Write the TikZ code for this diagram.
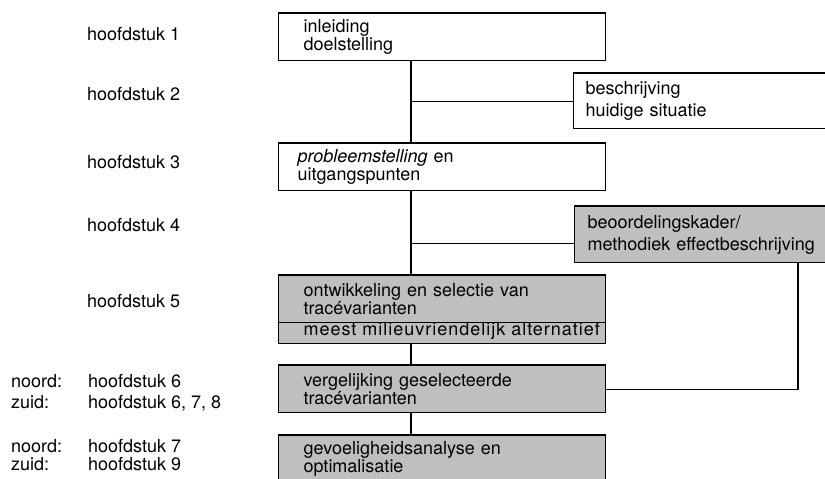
\documentclass[tikz,border=0pt]{standalone}
\usepackage{fontspec}
\setmainfont{TeX Gyre Heros}
\usetikzlibrary{positioning,calc}

\tikzset{
  kaal/.style={draw, line width=1.1pt, anchor=north west,
    inner ysep=0pt, font=\fontsize{18}{18.5}\selectfont},
  kader/.style={kaal, align=left},
  grijs/.style={kader, fill=gray!50},
  hfd/.style={anchor=base west, inner sep=0pt, font=\fontsize{18}{18.5}\selectfont},
  lijn/.style={line width=1.1pt}
}

\begin{document}
\begin{tikzpicture}[x=1pt,y=-1pt]
        \useasboundingbox (0,0) rectangle (825,479);
        \clip (0,0) rectangle (825,479);

        % Chapter labels
        \node[hfd] (h1) at (87,40) {hoofdstuk 1};
        \node[hfd] (h2) at (87,100) {hoofdstuk 2};
        \node[hfd] (h3) at (87,168) {hoofdstuk 3};
        \node[hfd] (h4) at (87,231) {hoofdstuk 4};
        \node[hfd] (h5) at (87,307) {hoofdstuk 5};
        \node[hfd] (n6) at (11,387) {noord:};
        \node[hfd] (h6) at (88,387) {hoofdstuk 6};
        \node[hfd] (z6) at (11,408) {zuid:};
        \node[hfd] (h678) at (88,408) {hoofdstuk 6, 7, 8};
        \node[hfd] (n7) at (11,452) {noord:};
        \node[hfd] (h7) at (88,452) {hoofdstuk 7};
        \node[hfd] (z9) at (11,470) {zuid:};
        \node[hfd] (h9) at (88,470) {hoofdstuk 9};

        % Boxes
        \node[kader, minimum width=327, minimum height=47, text width=277pt, inner xsep=25pt]
          (b1) at (278,13) {inleiding\\doelstelling};
        \node[kader, minimum width=266, minimum height=55, text width=242pt, inner xsep=12pt]
          (b2) at (573,73) {beschrijving\\[3.5pt]huidige situatie};
        \node[kader, minimum width=327, minimum height=47, text width=289pt, inner xsep=19pt]
          (b3) at (278,143) {\textit{probleemstelling} en\\uitgangspunten};
        \node[grijs, minimum width=266, minimum height=56, text width=240pt, inner xsep=13pt]
          (b4) at (574,206) {beoordelingskader/\\[3.5pt]methodiek effectbeschrijving};
        \node[grijs, minimum width=327, minimum height=47, text width=277pt, inner xsep=25pt]
          (b5a) at (278,275) {ontwikkeling en selectie van\\trac\'evarianten};
        \node[kaal, fill=gray!50, minimum width=327, minimum height=21, inner xsep=25pt,
          text height=13pt, text depth=8pt]
          (b5b) at (278,322) {\makebox[277pt][l]{\addfontfeature{LetterSpace=5.5}meest milieuvriendelijk alternatief}};
        \node[grijs, minimum width=327, minimum height=47, text width=277pt, inner xsep=25pt]
          (b6) at (278,365) {vergelijking geselecteerde\\trac\'evarianten};
        \node[grijs, minimum width=327, minimum height=47, text width=277pt, inner xsep=25pt]
          (b7) at (278,435) {gevoeligheidsanalyse en\\optimalisatie};

        % heavier top edges
        \foreach \b in {b1,b2,b3,b4,b5a,b6,b7}
          \draw[line width=2.2pt] (\b.north west) -- (\b.north east);

        % Connectors
        \coordinate (spine) at (411,0);
        \coordinate (rechts) at (798,0);
        \coordinate (t4) at ($(b4.west)+(0,9)$);
        \draw[lijn] (b1.south -| spine) -- (b3.north -| spine);
        \draw[lijn] (b3.south -| spine) -- (b5a.north -| spine);
        \draw[lijn] (b5b.south -| spine) -- (b6.north -| spine);
        \draw[lijn] (b6.south -| spine) -- (b7.north -| spine);
        \draw[lijn] (b2.west) -- (b2.west -| spine);
        \draw[lijn] (t4) -- (t4 -| spine);
        \draw[lijn] (b4.south -| rechts) |- (b6.east);
\end{tikzpicture}
\end{document}
